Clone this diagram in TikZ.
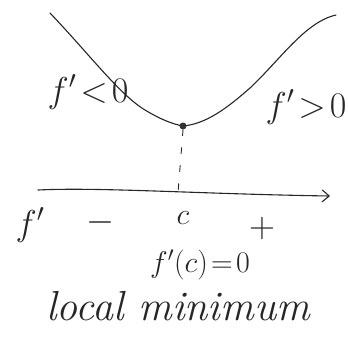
\RequirePackage{fix-cm}
\documentclass[tikz,border=0pt]{standalone}
\usetikzlibrary{arrows.meta}
\begin{document}
\begin{tikzpicture}[x=1pt,y=-1pt,
  ink/.style={draw=black!85, line width=1.1pt, line cap=round, line join=round},
  lbl/.style={inner sep=0pt, text=black!85},
  big/.style={lbl, font=\fontsize{36}{38}\selectfont},
  mid/.style={lbl, font=\fontsize{30}{32}\selectfont}]
\useasboundingbox (0,0) rectangle (348,341);
% curve
\draw[ink] (50,13) .. controls (90,55) and (120,95) .. (145,110)
  .. controls (160,119) and (172,124) .. (183,126)
  .. controls (205,124) and (225,110) .. (250,88)
  .. controls (280,60) and (305,22) .. (336,15);
\node[circle, fill=black!80, minimum size=7pt, inner sep=0pt] (m) at (183,126) {};
\coordinate (foot) at (178,193);
\draw[ink, line width=0.9pt, dash pattern=on 6pt off 12pt] (m.south) -- (foot);
% axis
\coordinate (a0) at (38,190);
\coordinate (a1) at (330,196);
\draw[ink, -{Straight Barb[length=7pt,width=12pt]}] (a0) .. controls (100,187) and (200,194) .. (a1);
% labels
\node[big] (l1) at (88,92) {$f'\!<\!0$};
\node[big] (l2) at (306,107) {$f'\!>\!0$};
\node[big] (fp) at (30,225) {$f'$};
\node[big] (mi) at (100,222) {$-$};
\node[lbl, font=\fontsize{30}{32}\selectfont] (c) at (183,218) {$c$};
\node[big] (pl) at (262,228) {$+$};
\node[mid] (fc) at (200,265) {$f'(c)\!=\!0$};
\node[lbl, font=\fontsize{42}{46}\selectfont\itshape] (lm) at (178,306) {local minimum};
\end{tikzpicture}
\end{document}
